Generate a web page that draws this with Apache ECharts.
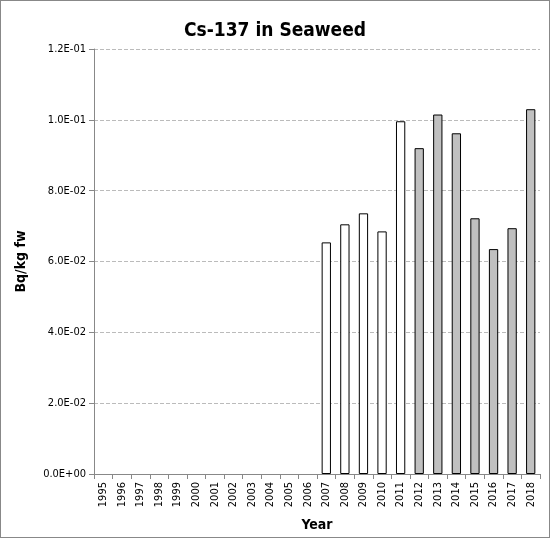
<!DOCTYPE html>
<html><head><meta charset="utf-8">
<script src="https://cdn.jsdelivr.net/npm/echarts@6/dist/echarts.min.js"></script>
<style>html,body{margin:0;padding:0;background:#fff}#c{width:548px;height:536px;border:1px solid #888}</style>
</head><body><div id="c"></div>
<script>
var years=['1995','1996','1997','1998','1999','2000','2001','2002','2003','2004','2005','2006','2007','2008','2009','2010','2011','2012','2013','2014','2015','2016','2017','2018'];
var values=[null,null,null,null,null,null,null,null,null,null,null,null,0.0654,0.0705,0.0736,0.0685,0.0996,0.0920,0.1015,0.0962,0.0722,0.0635,0.0694,0.1030];
var whiteUntil=2011;
function fmt(v){if(v===0)return '0.0E+00';var e=Math.floor(Math.log10(v)+1e-9);var m=v/Math.pow(10,e);var s=e<0?'-':'+';var a=Math.abs(e);return m.toFixed(1)+'E'+s+(a<10?'0':'')+a;}
var data=values.map(function(v,i){return {value:v,itemStyle:{color:(+years[i]<=whiteUntil)?'#ffffff':'#c0c0c0',borderColor:'#000',borderWidth:1}};});
var ch=echarts.init(document.getElementById('c'));
ch.setOption({
 animation:false,
 textStyle:{fontFamily:'DejaVu Sans Condensed, DejaVu Sans'},
 title:{text:'Cs-137 in Seaweed',left:'center',top:16,textStyle:{fontSize:19,fontWeight:'bold',color:'#000'}},
 grid:{left:93,right:9,top:48,bottom:60},
 xAxis:{type:'category',data:years,name:'Year',nameLocation:'middle',nameGap:44,nameTextStyle:{fontSize:14,fontWeight:'bold',color:'#000'},
  axisLine:{lineStyle:{color:'#888'}},axisTick:{show:true,alignWithLabel:false,lineStyle:{color:'#888'}},
  axisLabel:{rotate:90,fontSize:11,color:'#000',interval:0}},
 yAxis:{type:'value',min:0,max:0.12,interval:0.02,name:'Bq/kg fw',nameLocation:'middle',nameGap:66,nameTextStyle:{fontSize:14,fontWeight:'bold',color:'#000'},
  axisLine:{show:true,lineStyle:{color:'#888'}},axisTick:{show:true,lineStyle:{color:'#888'}},
  axisLabel:{formatter:fmt,fontSize:11,color:'#000'},
  splitLine:{lineStyle:{type:'dashed',color:'#bbb'}}},
 series:[{type:'bar',data:data,barWidth:'50%'}]
});
</script></body></html>
